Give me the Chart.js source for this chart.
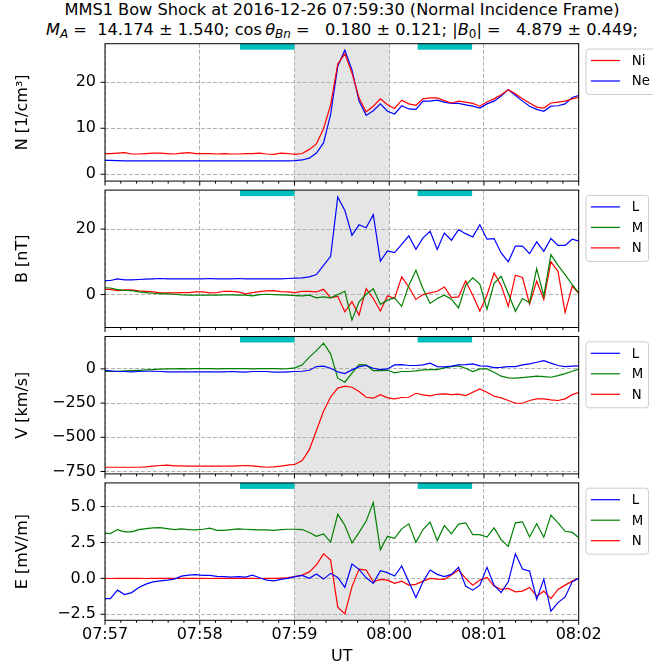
<!DOCTYPE html>
<html>
<head>
<meta charset="utf-8">
<script src="https://cdn.jsdelivr.net/npm/chart.js@4.4.0/dist/chart.umd.min.js"></script>
<style>
  html, body { margin: 0; padding: 0; background: #fff; }
  body { width: 653px; height: 670px; position: relative; overflow: hidden; font-family: "DejaVu Sans", sans-serif; }
  .ttl { position: absolute; left: 0; width: 684px; text-align: center; font-size: 16.2px; line-height: 20px; white-space: pre; color: #000; }
  .ttl sub { font-size: 12px; vertical-align: -3px; line-height: 0; }
  canvas { position: absolute; left: 0; }
</style>
</head>
<body>
<div class="ttl" style="top:0px">MMS1 Bow Shock at 2016-12-26 07:59:30 (Normal Incidence Frame)</div>
<div class="ttl" style="top:20px"><i>M</i><sub><i>A</i></sub> =  14.174 ± 1.540; cos&thinsp;<i>θ</i><sub><i>Bn</i></sub> =   0.180 ± 0.121; |<i>B</i><sub>0</sub>| =   4.879 ± 0.449;</div>
<canvas id="p0"></canvas>
<canvas id="p1"></canvas>
<canvas id="p2"></canvas>
<canvas id="p3"></canvas>
<script>
// seconds after 07:57:00 UT
const timeSec = [-1.1, 3.4, 7.9, 12.4, 16.9, 21.4, 25.9, 30.4, 34.9, 39.4, 43.9, 48.4, 52.9, 57.4, 61.9, 66.4,
  70.9, 75.4, 79.9, 84.4, 88.9, 93.4, 97.9, 102.4, 106.9, 111.4, 115.9, 120.4, 124.9, 129.4, 133.9, 138.4,
  142.9, 147.4, 151.9, 156.4, 160.9, 165.4, 169.9, 174.4, 178.9, 183.4, 187.9, 192.4, 196.9, 201.4, 205.9,
  210.4, 214.9, 219.4, 223.9, 228.4, 232.9, 237.4, 241.9, 246.4, 250.9, 255.4, 259.9, 264.4, 268.9, 273.4,
  277.9, 282.4, 286.9, 291.4, 295.9, 300.4];

const nIon = [4.5, 4.5, 4.6, 4.7, 4.4, 4.4, 4.5, 4.6, 4.6, 4.5, 4.4, 4.6, 4.7, 4.5, 4.5, 4.5, 4.4, 4.5, 4.4, 4.4,
  4.5, 4.5, 4.6, 4.4, 4.3, 4.6, 4.5, 4.3, 4.5, 5.4, 6.6, 9.9, 15.1, 24.0, 26.2, 22.0, 16.6, 13.6, 14.8, 16.4,
  15.1, 14.3, 16.1, 15.3, 15.0, 16.4, 16.6, 16.6, 16.0, 15.5, 15.9, 15.7, 15.4, 14.8, 15.7, 16.4, 17.3, 18.4,
  17.5, 16.4, 15.5, 14.6, 14.4, 15.5, 15.7, 15.9, 16.4, 16.8];
const nElec = [3.0, 3.0, 2.95, 2.9, 2.9, 2.9, 2.9, 2.9, 2.9, 2.9, 2.9, 2.9, 2.9, 2.9, 2.9, 2.9, 2.9, 2.9, 2.9, 2.9,
  2.9, 2.9, 2.9, 2.9, 2.9, 2.9, 2.9, 2.95, 3.1, 3.5, 4.6, 6.8, 13.0, 23.5, 27.0, 22.7, 15.9, 12.8, 13.8, 15.3,
  13.7, 13.1, 14.9, 14.2, 14.1, 15.9, 15.9, 16.1, 15.7, 15.4, 15.4, 15.1, 14.8, 14.4, 15.3, 15.9, 17.0, 18.4,
  17.2, 15.9, 14.8, 14.1, 13.7, 14.8, 14.9, 15.3, 16.7, 17.2];

const bL = [4.2, 4.3, 4.8, 4.5, 4.5, 4.6, 4.7, 4.8, 4.9, 4.8, 4.8, 4.8, 4.8, 4.8, 4.8, 4.9, 4.8, 4.8, 4.8, 4.9,
  4.8, 4.8, 4.8, 4.8, 4.8, 4.8, 4.9, 5.0, 5.1, 5.4, 6.1, 8.9, 11.7, 29.8, 25.7, 18.1, 21.3, 20.4, 24.4, 10.2,
  13.3, 12.8, 15.3, 17.9, 13.8, 17.3, 19.3, 13.8, 18.8, 16.6, 19.8, 18.6, 17.6, 21.3, 16.9, 17.1, 12.7, 10.0,
  14.8, 14.8, 12.5, 16.1, 13.2, 17.1, 15.0, 15.0, 16.9, 16.3];
const bM = [2.1, 2.0, 1.5, 1.3, 1.2, 0.8, 0.6, 0.4, 0.3, 0.2, 0.1, -0.1, -0.2, -0.2, -0.2, -0.2, -0.2, -0.1, -0.1,
  -0.2, -0.2, -0.4, 0.0, 0.1, 0.0, -0.1, -0.2, -0.3, -0.4, -0.2, -1.0, -0.7, -1.0, 0.0, 1.0, -7.8, -2.2, 0.1,
  1.8, -3.0, -1.7, -1.0, -3.6, 2.8, 7.4, 1.8, -2.7, -1.2, -0.2, -1.4, -4.1, 2.8, 5.1, 3.2, -4.5, 3.4, 5.6, 0.3,
  -5.1, -1.2, -2.5, 7.9, -0.5, 12.2, 8.9, 6.1, 3.0, 0.3];
const bN = [1.6, 1.6, 1.2, 1.4, 1.4, 1.1, 1.0, 0.8, 0.5, 0.5, 0.5, 0.6, 0.6, 0.8, 0.8, 0.5, 0.6, 1.0, 1.0, 0.8,
  0.2, 0.6, 0.9, 1.1, 1.2, 0.9, 0.8, 0.6, 1.0, 1.0, 0.8, 1.6, -1.0, -0.5, -5.3, -2.2, -6.3, 1.8, -1.2, -5.0,
  -0.4, -1.2, 5.4, 2.3, -1.5, 0.0, 0.5, 1.0, 2.3, -0.9, -0.7, 4.2, -0.2, -5.0, -0.2, 6.6, 2.8, -3.6, 5.9, 5.2,
  -2.9, 4.1, -1.5, 10.0, 7.1, -5.5, 2.6, 0.1];

const vL = [-10, -14, -19, -19, -22, -19, -17, -17, -19, -22, -22, -22, -22, -22, -22, -22, -22, -22, -19, -22,
  -24, -19, -19, -19, -24, -24, -22, -19, -17, -10, 17, 20, 5, -22, -34, -7, 17, 25, 5, -5, 0, 29, 32, 25, 25,
  29, 42, 17, 15, 20, 29, 32, 37, 22, 20, 10, 12, 17, 17, 29, 37, 49, 61, 42, 25, 17, 20, 22];
const vM = [-19, -19, -17, -14, -12, -10, -7, -5, -2, 0, 0, 2, 0, 2, 2, 2, 0, 2, 2, 2, 2, 0, 2, 2, 2, 0, 2, 8,
  30, 86, 134, 188, 110, -68, -97, -31, 32, 29, -12, -12, -10, -29, -19, -19, -14, -7, -5, -5, 8, 17, 22, 5,
  -19, 0, 0, -24, -53, -66, -68, -63, -58, -53, -56, -61, -49, -34, -17, 0];
const vN = [-719, -719, -719, -719, -719, -719, -716, -711, -706, -704, -709, -709, -711, -711, -711, -711, -711,
  -711, -711, -709, -706, -709, -714, -719, -716, -711, -704, -697, -670, -590, -450, -310, -205, -140, -126,
  -134, -165, -207, -214, -188, -212, -219, -209, -207, -178, -190, -197, -185, -183, -188, -185, -195, -170,
  -146, -170, -200, -212, -231, -251, -251, -231, -219, -219, -227, -231, -219, -188, -170];

const eL = [-1.41, -1.41, -0.82, -1.13, -0.99, -0.64, -0.40, -0.24, -0.17, -0.12, -0.05, 0.16, 0.23, 0.26, 0.21,
  0.21, 0.14, 0.12, 0.09, 0.12, 0.09, 0.23, 0.04, -0.12, -0.17, -0.07, 0.0, 0.12, 0.21, 0.0, 0.30, -0.05, 0.35,
  0.07, -0.63, 1.0, 0.63, 0.04, -0.35, 0.54, 0.40, 0.16, 0.87, -0.24, -1.34, -0.24, 0.58, 0.28, 0.12, 0.28,
  0.77, -0.54, -0.82, -0.47, 0.77, -0.47, -0.99, -0.24, 1.71, 0.65, 0.51, -1.46, -0.05, -2.28, -1.69, -1.29,
  -0.24, 0.04];
const eM = [3.17, 3.12, 3.40, 3.24, 3.24, 3.40, 3.47, 3.52, 3.54, 3.47, 3.40, 3.45, 3.40, 3.38, 3.42, 3.50, 3.35,
  3.35, 3.40, 3.45, 3.42, 3.40, 3.38, 3.38, 3.35, 3.40, 3.42, 3.42, 3.40, 3.20, 2.93, 3.10, 2.53, 4.46, 3.70,
  2.46, 3.20, 3.99, 5.28, 1.99, 2.93, 2.79, 3.45, 3.80, 2.51, 3.40, 3.92, 2.63, 3.68, 3.10, 3.78, 3.87, 3.05,
  3.05, 2.88, 3.52, 2.70, 2.23, 3.87, 3.94, 2.88, 3.80, 2.86, 4.41, 3.87, 3.28, 3.20, 2.81];
const eN = [0.0, -0.01, 0.0, 0.01, 0.0, 0.0, -0.01, 0.0, 0.01, 0.0, 0.0, 0.0, 0.01, 0.0, 0.0, -0.01, 0.0, 0.0,
  0.0, 0.01, 0.0, 0.0, -0.01, 0.0, 0.0, 0.02, 0.05, 0.12, 0.23, 0.45, 0.94, 1.71, 1.27, -2.0, -2.47, -0.59,
  0.65, 0.58, -0.24, -0.07, -0.12, -0.35, -0.19, -0.47, -0.42, -0.19, 0.0, -0.05, -0.07, 0.23, 0.58, 0.0,
  -0.47, -0.12, 0.07, -0.54, -0.77, -0.70, -0.94, -0.89, -0.63, -1.24, -0.89, -1.41, -0.77, -0.47, -0.19, 0.04];

const xTickValues = [0, 60, 120, 180, 240, 300];
const xTickLabels = ['07:57', '07:58', '07:59', '08:00', '08:01', '08:02'];
const shadeSpan = [120, 180];
const markSpans = [[85.5, 120], [198, 232.5]];

const RED = '#ff0000', BLUE = '#0000ff', GREEN = '#008000';
const FONT = '"DejaVu Sans", sans-serif';
const PLOT_LEFT = 105, PLOT_RIGHT = 578.7, PH = 137.4;
const PANEL_TOP = [43.7, 190.1, 336.5, 482.9];

const panels = [
  { label: 'N [1/cm³]', min: -1.5, max: 28.4, ticks: [0, 10, 20], tickLabels: ['0', '10', '20'],
    series: [{ name: 'Ni', data: nIon, color: RED }, { name: 'Ne', data: nElec, color: BLUE }] },
  { label: 'B [nT]', min: -10.06, max: 31.9, ticks: [0, 20], tickLabels: ['0', '20'],
    series: [{ name: 'L', data: bL, color: BLUE }, { name: 'M', data: bM, color: GREEN }, { name: 'N', data: bN, color: RED }] },
  { label: 'V [km/s]', min: -767.5, max: 237, ticks: [-750, -500, -250, 0], tickLabels: ['−750', '−500', '−250', '0'],
    series: [{ name: 'L', data: vL, color: BLUE }, { name: 'M', data: vM, color: GREEN }, { name: 'N', data: vN, color: RED }] },
  { label: 'E [mV/m]', min: -2.92, max: 6.65, ticks: [-2.5, 0, 2.5, 5], tickLabels: ['−2.5', '0.0', '2.5', '5.0'],
    series: [{ name: 'L', data: eL, color: BLUE }, { name: 'M', data: eM, color: GREEN }, { name: 'N', data: eN, color: RED }] }
];

function line(ctx, x0, y0, x1, y1) {
  ctx.beginPath(); ctx.moveTo(x0, y0); ctx.lineTo(x1, y1); ctx.stroke();
}

const deco = {
  id: 'deco',
  beforeDraw(chart) {
    const { ctx, chartArea: a, scales: { x } } = chart;
    const x0 = x.getPixelForValue(shadeSpan[0]), x1 = x.getPixelForValue(shadeSpan[1]);
    ctx.save();
    ctx.fillStyle = '#e5e5e5';
    ctx.fillRect(x0, a.top, x1 - x0, a.bottom - a.top);
    ctx.restore();
  },
  afterDatasetsDraw(chart) {
    const { ctx, chartArea: a, scales: { x } } = chart;
    ctx.save();
    ctx.fillStyle = '#00bfbf';
    markSpans.forEach(s => {
      const x0 = x.getPixelForValue(s[0]), x1 = x.getPixelForValue(s[1]);
      ctx.fillRect(x0, a.top, x1 - x0, 6);
    });
    ctx.restore();
  },
  afterDraw(chart, args, opts) {
    const { ctx, chartArea: a, scales: { x, y } } = chart;
    ctx.save();
    ctx.strokeStyle = '#000';
    ctx.lineWidth = 1;
    for (let s = 0; s <= 300; s += 10) {
      const px = x.getPixelForValue(s);
      line(ctx, px, a.bottom, px, a.bottom + (s % 60 === 0 ? 4.5 : 2.5));
    }
    y.ticks.forEach(t => {
      const py = y.getPixelForValue(t.value);
      line(ctx, a.left - 4.5, py, a.left, py);
    });
    ctx.strokeRect(a.left, a.top, a.right - a.left, a.bottom - a.top);

    // legend box outside the right edge
    const items = opts.items;
    ctx.font = '13.3px ' + FONT;
    const tw = Math.max(...items.map(it => ctx.measureText(it.name).width));
    const pad = 4.8, hl = 29.3, gap = 11.7, rowH = 20.5;
    const bx = a.right + 7.3, by = a.top + 5.3;
    const bw = pad + hl + gap + tw + 5.3, bh = 25 + (items.length - 1) * rowH;
    ctx.beginPath();
    ctx.roundRect(bx, by, bw, bh, 3);
    ctx.fillStyle = 'rgba(255,255,255,0.8)';
    ctx.fill();
    ctx.strokeStyle = '#cccccc';
    ctx.stroke();
    items.forEach((it, i) => {
      const cy = by + 11.5 + rowH * i;
      ctx.strokeStyle = it.color;
      ctx.lineWidth = 1.2;
      line(ctx, bx + pad, cy, bx + pad + hl, cy);
      ctx.fillStyle = '#000';
      ctx.textBaseline = 'middle';
      ctx.fillText(it.name, bx + pad + hl + gap, cy + 1);
    });
    ctx.restore();
  }
};

panels.forEach((p, idx) => {
  const last = idx === panels.length - 1;
  const top = PANEL_TOP[idx];
  const cTop = Math.floor(top) - 8;
  const cH = last ? 670 - cTop : Math.ceil(top + PH) + 8 - cTop;
  const canvas = document.getElementById('p' + idx);
  canvas.width = 653; canvas.height = cH;
  canvas.style.top = cTop + 'px';
  canvas.style.width = '653px'; canvas.style.height = cH + 'px';
  const padTop = top - cTop;

  new Chart(canvas, {
    type: 'line',
    data: {
      datasets: p.series.map(s => ({
        label: s.name,
        data: s.data.map((v, i) => ({ x: timeSec[i], y: v })),
        borderColor: s.color,
        borderWidth: 1.2,
        pointRadius: 0,
        tension: 0,
        fill: false,
        clip: 0
      }))
    },
    options: {
      responsive: false,
      animation: false,
      devicePixelRatio: 1,
      layout: { padding: { top: padTop, right: 653 - PLOT_RIGHT, left: 0, bottom: 0 } },
      plugins: { legend: { display: false }, tooltip: { enabled: false }, deco: { items: p.series } },
      scales: {
        x: {
          type: 'linear', min: 0, max: 300,
          afterBuildTicks: s => { s.ticks = xTickValues.map(v => ({ value: v })); },
          afterFit: s => {
            s.height = cH - padTop - PH;
            s.paddingLeft = 0; s.paddingRight = 0; s.paddingTop = 0; s.paddingBottom = 0;
          },
          ticks: { display: last, autoSkip: false, maxRotation: 0, padding: 5, color: '#000',
                   font: { family: FONT, size: 16 }, callback: (v, i) => xTickLabels[i] },
          grid: { color: '#b0b0b0', lineWidth: 1, drawTicks: false },
          border: { display: false, dash: [4, 2] },
          title: { display: last, text: 'UT', color: '#000', font: { family: FONT, size: 16 }, padding: { top: 6, bottom: 4 } }
        },
        y: {
          min: p.min, max: p.max,
          afterBuildTicks: s => { s.ticks = p.ticks.map(v => ({ value: v })); },
          afterFit: s => {
            s.width = PLOT_LEFT;
            s.paddingLeft = 0; s.paddingRight = 0; s.paddingTop = 0; s.paddingBottom = 0;
          },
          ticks: { autoSkip: false, padding: 9, color: '#000', font: { family: FONT, size: 16 },
                   callback: (v, i) => p.tickLabels[i] },
          grid: { color: '#b0b0b0', lineWidth: 1, drawTicks: false },
          border: { display: false, dash: [4, 2] },
          title: { display: true, text: p.label, color: '#000', font: { family: FONT, size: 16 }, padding: { top: 13, bottom: 0 } }
        }
      }
    },
    plugins: [deco]
  });
});
</script>
</body>
</html>
